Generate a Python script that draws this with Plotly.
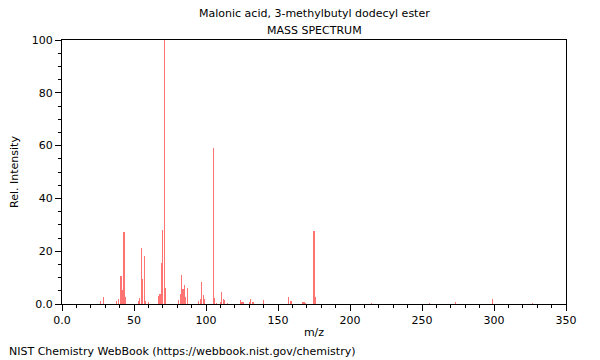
import plotly.graph_objects as go

mz = [27, 29, 38, 39, 41, 42, 43, 44, 53, 54, 55, 56, 57, 58, 60,
      67, 68, 69, 70, 71, 72, 81, 82, 83, 84, 85, 86, 87,
      95, 96, 97, 98, 99, 105, 106, 107, 110, 111, 112, 113, 115,
      124, 125, 126, 130, 131, 132, 133, 140, 157, 159, 167, 168, 169,
      175, 176, 215, 255, 273, 299, 327]
intensity = [1.0, 2.6, 1.2, 2.0, 10.7, 5.3, 27.3, 2.5, 1.0, 2.2, 21.2, 9.5, 18.2, 1.0, 0.7,
             3.0, 3.8, 15.5, 28.0, 100.0, 6.0, 1.5, 3.8, 11.1, 5.7, 7.3, 2.8, 6.0,
             1.1, 1.8, 8.5, 3.4, 1.9, 59.1, 2.3, 0.5, 0.9, 4.4, 1.8, 1.4, 0.5,
             1.5, 0.8, 0.6, 0.8, 1.8, 0.9, 0.6, 1.5, 2.6, 1.1, 0.6, 0.9, 0.5,
             27.6, 2.6, 0.3, 0.3, 0.9, 1.9, 0.3]

x_ticks = [0, 50, 100, 150, 200, 250, 300, 350]
x_labels = ["0.0", "50", "100", "150", "200", "250", "300", "350"]
y_ticks = [0, 20, 40, 60, 80, 100]
y_labels = ["0.0", "20", "40", "60", "80", "100"]

font = "DejaVu Sans, Verdana, sans-serif"

fig = go.Figure()
fig.add_trace(go.Bar(x=mz, y=intensity, width=0.8,
                     marker=dict(color="rgba(255,0,0,0.55)", line=dict(width=0)),
                     hoverinfo="x+y"))

fig.update_layout(
    width=592, height=352,
    margin=dict(l=54, r=34, t=32, b=56),
    paper_bgcolor="white", plot_bgcolor="white",
    showlegend=False,
    font=dict(family=font, size=11, color="black"),
    bargap=0,
    annotations=[
        dict(text="Malonic acid, 3-methylbutyl dodecyl ester", x=0.5, y=1.0,
             xref="paper", yref="paper", xanchor="center", yanchor="bottom",
             yshift=18, showarrow=False, font=dict(size=11, family=font)),
        dict(text="MASS SPECTRUM", x=0.5, y=1.0,
             xref="paper", yref="paper", xanchor="center", yanchor="bottom",
             yshift=1, showarrow=False, font=dict(size=11, family=font)),
        dict(text="NIST Chemistry WebBook (https://webbook.nist.gov/chemistry)",
             x=0, y=0, xref="paper", yref="paper", xanchor="left", yanchor="bottom",
             xshift=-54, yshift=-55, borderpad=0, showarrow=False,
             font=dict(size=11, family=font)),
    ],
)

fig.update_xaxes(
    range=[0, 350], tickvals=x_ticks, ticktext=x_labels, automargin=False,
    ticks="outside", ticklen=6, tickwidth=1, tickcolor="black",
    minor=dict(dtick=10, tick0=0, ticks="outside", ticklen=3, tickcolor="black", tickwidth=1),
    showline=True, linecolor="black", linewidth=1, mirror=True,
    showgrid=False, zeroline=False,
    title=dict(text="m/z", font=dict(size=11, family=font), standoff=2),
    tickfont=dict(size=11, family=font),
)
fig.update_yaxes(
    range=[0, 100], tickvals=y_ticks, ticktext=y_labels, automargin=False,
    ticks="outside", ticklen=6, tickwidth=1, tickcolor="black",
    minor=dict(dtick=5, tick0=0, ticks="outside", ticklen=3, tickcolor="black", tickwidth=1),
    showline=True, linecolor="black", linewidth=1, mirror=True,
    showgrid=False, zeroline=False,
    title=dict(text="Rel. Intensity", font=dict(size=11, family=font), standoff=15),
    tickfont=dict(size=11, family=font),
)

fig.write_html("out.html")
